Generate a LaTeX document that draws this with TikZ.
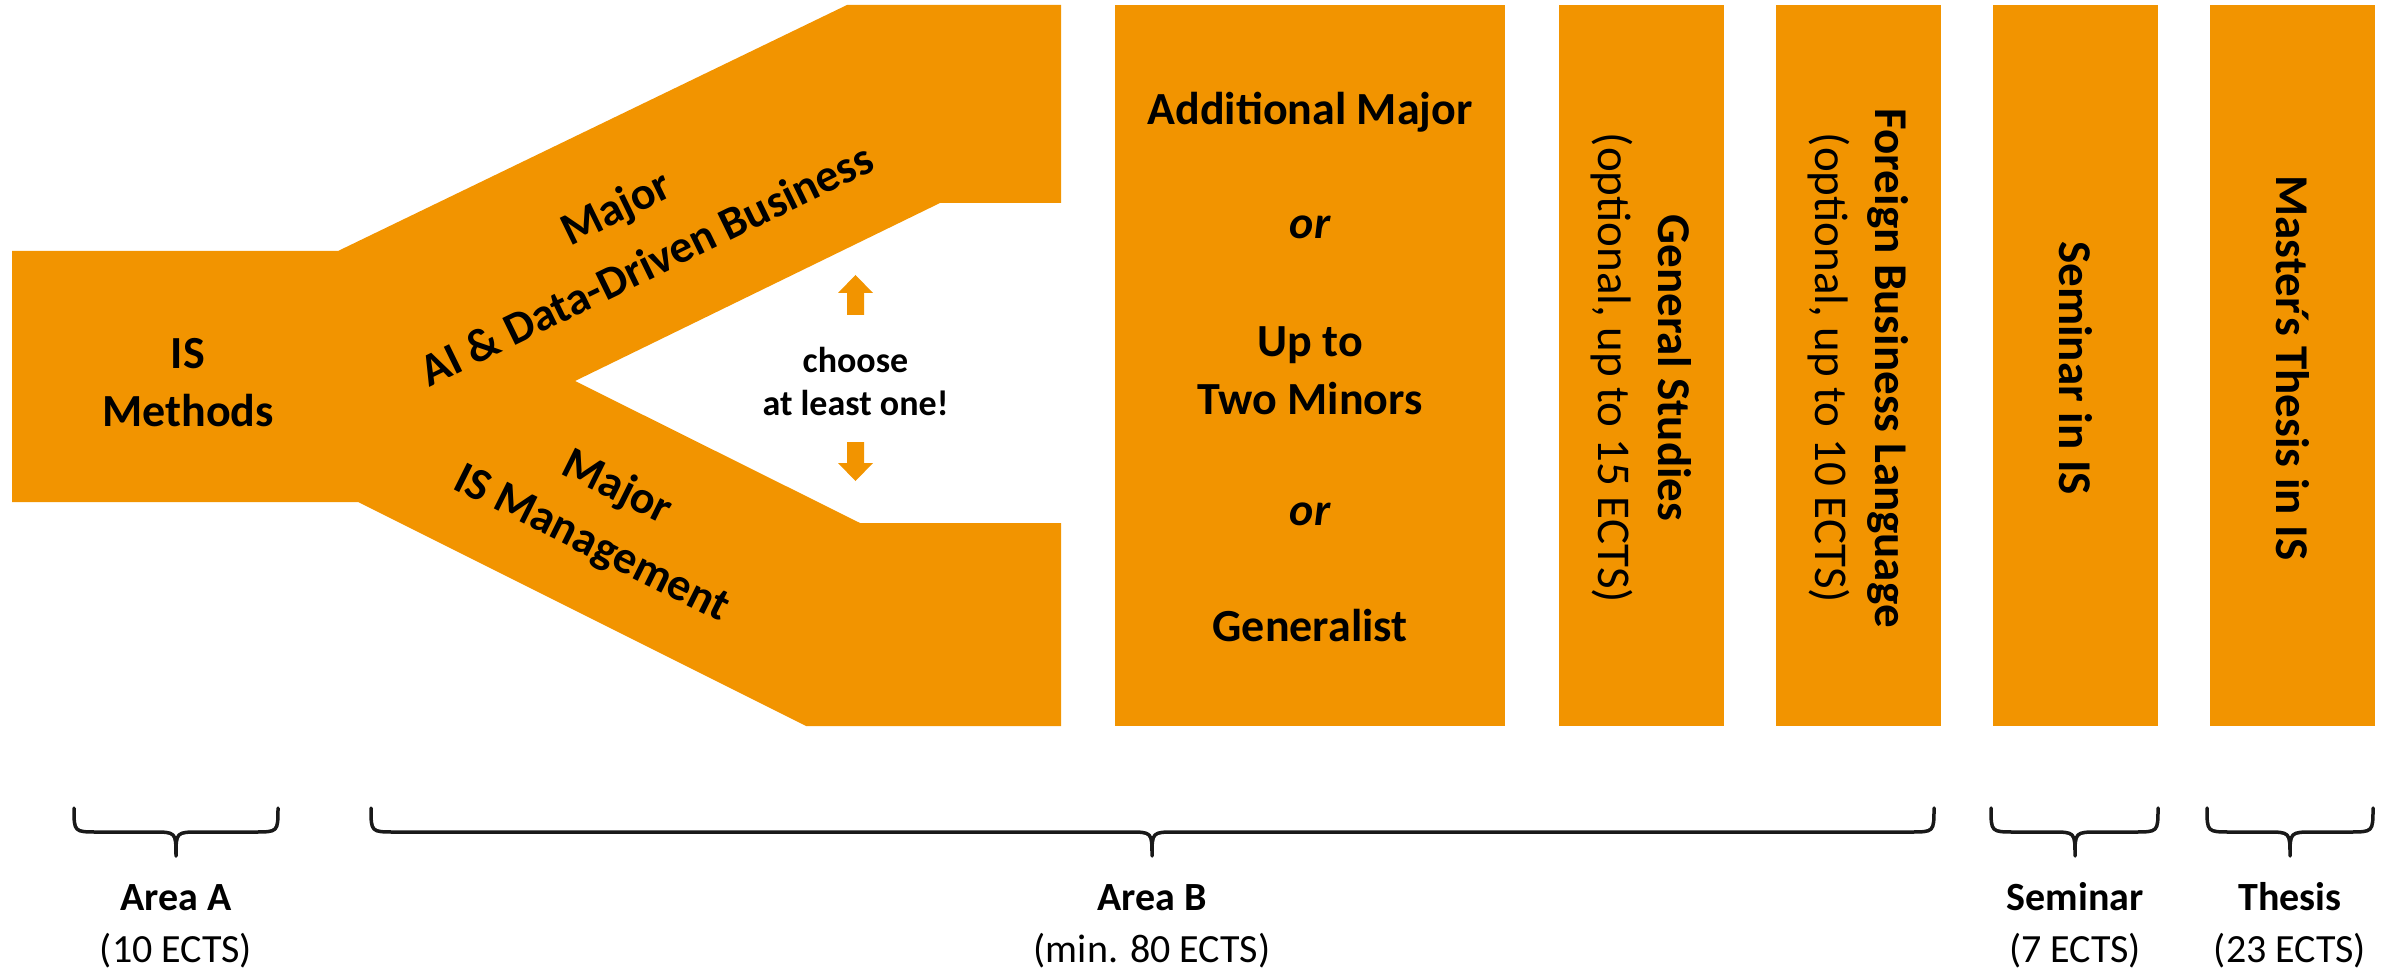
\documentclass[tikz,border=0pt]{standalone}
\usepackage{fontspec}
\setmainfont{Carlito}
\definecolor{org}{RGB}{242,148,0}
\newcommand{\drawbrace}[3]{%
  \draw[brc] (#1,808) .. controls (#1,832) .. (#1+24,832) -- (#2-24,832)
    .. controls (#2,832) .. (#2,856) .. controls (#2,832) .. (#2+24,832)
    -- (#3-24,832) .. controls (#3,832) .. (#3,808);}
\begin{document}
\begin{tikzpicture}[x=1pt,y=-1pt,
  bigtxt/.style={font=\fontsize{46}{58}\selectfont\bfseries, align=center, inner sep=0pt},
  chtxt/.style={font=\fontsize{36}{43}\selectfont\bfseries, align=center, inner sep=0pt},
  vtxt/.style={font=\fontsize{47}{60}\selectfont, align=center, rotate=-90, inner sep=0pt},
  lbl/.style={font=\fontsize{40}{52}\selectfont, align=center, inner sep=0pt, anchor=base},
  brc/.style={draw=black!90, line width=3.5pt, line cap=round, line join=round},
]
\useasboundingbox (0,0) rectangle (2385,973);

% branching shape
\fill[org] (12,251) -- (338,251) -- (847,5) -- (1061,5) -- (1061,203) -- (940,203)
  -- (575,381) -- (860,523) -- (1061,523) -- (1061,726) -- (806,726) -- (358,502)
  -- (12,502) -- cycle;

% columns
\fill[org] (1115,5) rectangle (1505,726);
\fill[org] (1559,5) rectangle (1724,726);
\fill[org] (1776,5) rectangle (1941,726);
\fill[org] (1993,5) rectangle (2158,726);
\fill[org] (2210,5) rectangle (2375,726);

% texts in the branching shape
\node[bigtxt, anchor=base] (methods) at (188,426) {IS\\Methods};
\node[bigtxt, rotate=26] (maj1) at (617,210) {Major};
\node[bigtxt, rotate=26] (ai) at (646,264) {AI \& Data-Driven Business};
\node[bigtxt, rotate=-26.5] (maj2) at (617,488) {Major};
\node[bigtxt, rotate=-26.5] (ism) at (591,545) {IS Management};

% choose
\node[chtxt, anchor=base] (choose) at (855.5,415) {choose\\at least one!};
\fill[org] (855.5,275) -- (873,293) -- (864,293) -- (864,315) -- (847,315) -- (847,293) -- (838,293) -- cycle;
\fill[org] (855.5,481) -- (873,463) -- (864,463) -- (864,442) -- (847,442) -- (847,463) -- (838,463) -- cycle;

% additional major column
\node[bigtxt, anchor=base] (am) at (1310,125) {Additional Major};
\node[bigtxt, anchor=base] (or1) at (1310,239) {\itshape or};
\node[bigtxt, anchor=base] (uptwo) at (1310,414) {Up to\\Two Minors};
\node[bigtxt, anchor=base] (or2) at (1310,525) {\itshape or};
\node[bigtxt, anchor=base] (gener) at (1310,641) {Generalist};

% vertical texts
\node[vtxt] (gs) at (1641.5,368) {\textbf{General Studies}\\(optional, up to 15 ECTS)};
\node[vtxt] (fbl) at (1858.5,368) {\textbf{Foreign Business Language}\\(optional, up to 10 ECTS)};
\node[vtxt] (sem) at (2075.5,368) {\textbf{Seminar in IS}};
\node[vtxt] (thes) at (2292.5,368) {\textbf{Master\kern-0.12em´\kern-0.12em s Thesis in IS}};

% braces
\drawbrace{74}{176}{278}
\drawbrace{371}{1152}{1934}
\drawbrace{1991}{2075}{2158}
\drawbrace{2207}{2290}{2373}

% labels
\node[lbl] (la) at (176,962) {\textbf{Area A}\\(10 ECTS)};
\node[lbl] (lb) at (1152,962) {\textbf{Area B}\\(min. 80 ECTS)};
\node[lbl] (ls) at (2075,962) {\textbf{Seminar}\\(7 ECTS)};
\node[lbl] (lt) at (2290,962) {\textbf{Thesis}\\(23 ECTS)};
\end{tikzpicture}
\end{document}
